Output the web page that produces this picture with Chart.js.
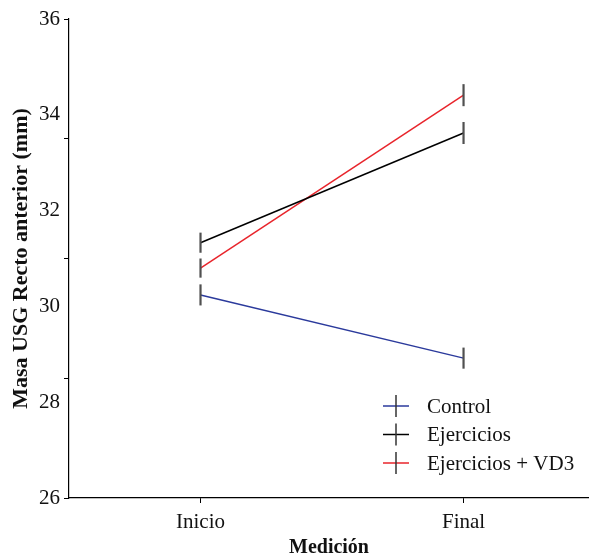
<!DOCTYPE html>
<html>
<head>
<meta charset="utf-8">
<script src="https://cdn.jsdelivr.net/npm/chart.js@4"></script>
<style>
  html, body { margin: 0; padding: 0; background: #fff; }
  canvas { display: block; }
</style>
</head>
<body>
<canvas id="myChart" width="589" height="558"></canvas>
<script>
const mediciones = ["Inicio", "Final"];
const grupos = ["Control", "Ejercicios", "Ejercicios + VD3"];
const mediaControl = [30.24, 28.92];
const mediaEjercicios = [31.33, 33.62];
const mediaEjerciciosVD3 = [30.8, 34.41];
const errorControl = [0.22, 0.22];
const errorEjercicios = [0.21, 0.23];
const errorEjerciciosVD3 = [0.2, 0.23];
const yTickLabels = [26, 28, 30, 32, 34, 36];
const yTickMarks = [26, 28.5, 31, 33.5, 36];

const colores = ["#2b3a9c", "#000000", "#e8242b"];
const fuente = "'Liberation Serif', 'DejaVu Serif', serif";

const medias = [mediaControl, mediaEjercicios, mediaEjerciciosVD3];
const errores = [errorControl, errorEjercicios, errorEjerciciosVD3];

const datasets = grupos.map((grupo, i) => ({
  label: grupo,
  data: medias[i].map((v, j) => ({ x: j, y: v })),
  borderColor: colores[i],
  backgroundColor: colores[i],
  borderWidth: 1.5,
  pointRadius: 0,
  tension: 0,
}));

// barras de error verticales (sin tapas)
const errorBars = {
  id: "errorBars",
  afterDatasetsDraw(chart) {
    const { ctx, scales } = chart;
    ctx.save();
    ctx.strokeStyle = "#505050";
    ctx.lineWidth = 2.2;
    medias.forEach((serie, i) => {
      serie.forEach((v, j) => {
        const x = scales.x.getPixelForValue(j);
        const y1 = scales.y.getPixelForValue(v + errores[i][j]);
        const y2 = scales.y.getPixelForValue(v - errores[i][j]);
        ctx.beginPath();
        ctx.moveTo(x, y1);
        ctx.lineTo(x, y2);
        ctx.stroke();
      });
    });
    ctx.restore();
  },
};

// leyenda dentro del area del grafico, abajo a la derecha
const leyenda = {
  id: "leyenda",
  afterDraw(chart) {
    const { ctx, chartArea } = chart;
    const x0 = chartArea.right - 206;
    const y0 = chartArea.bottom - 92;
    ctx.save();
    ctx.font = `21px ${fuente}`;
    ctx.textBaseline = "middle";
    grupos.forEach((grupo, i) => {
      const y = y0 + i * 28.5;
      ctx.strokeStyle = colores[i];
      ctx.lineWidth = 1.5;
      ctx.beginPath();
      ctx.moveTo(x0, y);
      ctx.lineTo(x0 + 26, y);
      ctx.stroke();
      ctx.strokeStyle = "#333333";
      ctx.lineWidth = 1.5;
      ctx.beginPath();
      ctx.moveTo(x0 + 13, y - 11);
      ctx.lineTo(x0 + 13, y + 11);
      ctx.stroke();
      ctx.fillStyle = "#111111";
      ctx.fillText(grupo, x0 + 44, y + 1);
    });
    ctx.restore();
  },
};

const config = {
  type: "line",
  data: { datasets },
  options: {
    responsive: false,
    animation: false,
    layout: { padding: { top: 19, right: 0, left: 0, bottom: 0 } },
    plugins: {
      legend: { display: false },
      tooltip: { enabled: false },
    },
    scales: {
      x: {
        type: "linear",
        min: -0.5,
        max: 1.477,
        afterBuildTicks: (scale) => {
          scale.ticks = mediciones.map((m, j) => ({ value: j }));
        },
        afterFit: (scale) => {
          scale.height = 60;
        },
        ticks: {
          callback: (value) => mediciones[value],
          color: "#111",
          font: { family: fuente, size: 21 },
          padding: 7,
          maxRotation: 0,
        },
        grid: {
          drawOnChartArea: false,
          tickLength: 5,
          tickColor: "#000",
        },
        border: { color: "#000", width: 1.2 },
        title: {
          display: true,
          text: "Medición",
          color: "#111",
          font: { family: fuente, size: 20, weight: "bold" },
          padding: { top: 0, bottom: -2 },
        },
      },
      y: {
        min: 26,
        max: 36,
        afterBuildTicks: (scale) => {
          const ticks = [];
          for (let v = 26; v <= 36; v += 0.5) ticks.push({ value: v });
          scale.ticks = ticks;
        },
        afterFit: (scale) => {
          scale.width = 69;
        },
        ticks: {
          autoSkip: false,
          callback: (value) => (yTickLabels.includes(value) ? String(value) : ""),
          color: "#111",
          font: { family: fuente, size: 21 },
          padding: 4,
        },
        grid: {
          drawOnChartArea: false,
          tickLength: 5,
          tickColor: (ctx) => (ctx.tick && yTickMarks.includes(ctx.tick.value) ? "#000" : "rgba(0,0,0,0)"),
        },
        border: { color: "#000", width: 1.2 },
        title: {
          display: true,
          text: "Masa USG Recto anterior (mm)",
          color: "#111",
          font: { family: fuente, size: 22, weight: "bold" },
          padding: { top: 8, bottom: 0 },
        },
      },
    },
  },
  plugins: [errorBars, leyenda],
};

const myChart = new Chart(document.getElementById("myChart"), config);
</script>
</body>
</html>
